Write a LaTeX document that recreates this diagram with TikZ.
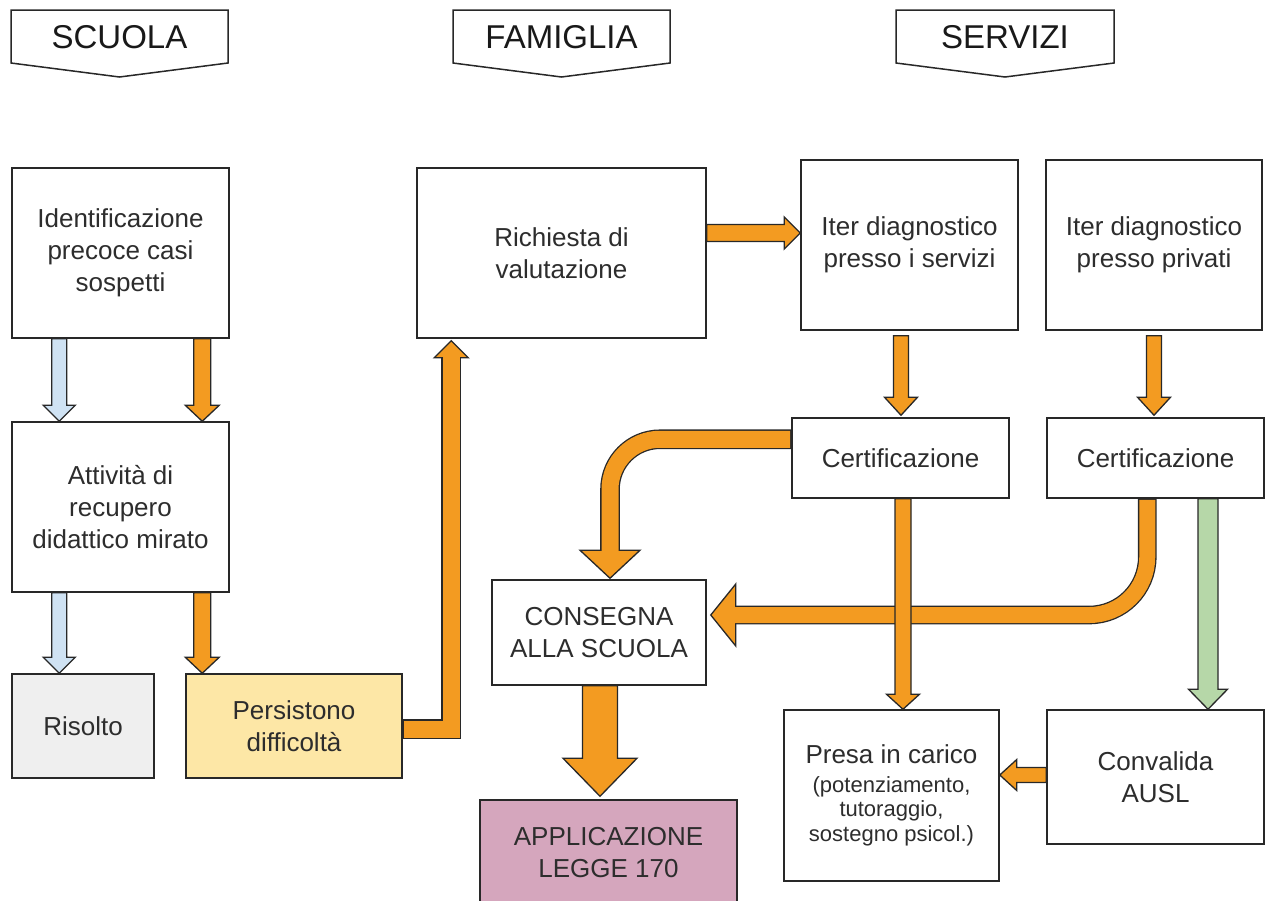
\documentclass[tikz,border=0pt]{standalone}
\usepackage{fontspec}
\setmainfont{Liberation Sans}
\usetikzlibrary{calc}
\definecolor{oran}{RGB}{243,155,33}
\definecolor{lblue}{RGB}{207,226,243}
\definecolor{lgreen}{RGB}{182,215,168}
\definecolor{lgray}{RGB}{239,239,239}
\definecolor{lyell}{RGB}{253,231,166}
\definecolor{lpink}{RGB}{213,166,189}
\definecolor{edge}{RGB}{40,40,40}
\definecolor{txt}{RGB}{45,45,45}
% straight block arrow: fill, start, end, shaft half width, head half width, head length
\newcommand{\barrow}[6]{%
  \path (#2) coordinate (bas) (#3) coordinate (bae);
  \path ($(bae)!#6!(bas)$) coordinate (bah);
  \filldraw[arrowline, fill=#1] ($(bas)!#4!90:(bae)$) -- ($(bah)!#4!-90:(bas)$) -- ($(bah)!#5!-90:(bas)$) -- (bae) -- ($(bah)!#5!90:(bas)$) -- ($(bah)!#4!90:(bas)$) -- ($(bas)!#4!-90:(bae)$) -- cycle;
}
% arrow head only: fill, base, tip, half width
\newcommand{\bhead}[4]{%
  \path (#2) coordinate (bhb) (#3) coordinate (bht);
  \filldraw[arrowline, fill=#1] ($(bhb)!#4!90:(bht)$) -- (bht) -- ($(bhb)!#4!-90:(bht)$) -- cycle;
}
\tikzset{
  box/.style={draw=edge, line width=1.5pt, fill=white, inner sep=0pt, align=center, text=txt, font=\fontsize{26}{32}\selectfont},
  hdr/.style={inner sep=0pt, text=black!90, font=\fontsize{33}{36}\selectfont},
  hdrline/.style={draw=edge, line width=1.5pt, line join=miter},
  arrowline/.style={draw=edge, line width=1.3pt, line join=miter},
  shaftout/.style={draw=edge, line width=#1, line join=miter},
  shaftin/.style={draw=oran, line width=#1, line join=miter},
}
\begin{document}
\begin{tikzpicture}[x=1pt, y=-1pt]
\fill[white] (0,0) rectangle (1265,900);
\useasboundingbox (0,0) rectangle (1265,900);

% headers
\draw[hdrline] (11,10) -- (228,10) -- (228,63) -- (119.5,77) -- (11,63) -- cycle;
\node[hdr] (hs) at (119.5,37) {SCUOLA};
\draw[hdrline] (453,10) -- (670,10) -- (670,63) -- (561.5,77) -- (453,63) -- cycle;
\node[hdr] (hf) at (561.5,37) {FAMIGLIA};
\draw[hdrline] (896,10) -- (1114,10) -- (1114,63) -- (1005,77) -- (896,63) -- cycle;
\node[hdr] (hv) at (1005,37) {SERVIZI};

% boxes
\node[box, minimum width=217pt, minimum height=170pt] (ident) at (120.5,253) {Identificazione\\precoce casi\\sospetti};
\node[box, minimum width=217pt, minimum height=170pt] (attiv) at (120.5,507) {Attività di\\recupero\\didattico mirato};
\node[box, fill=lgray, minimum width=142pt, minimum height=104pt] (risolto) at (83,726) {Risolto};
\node[box, fill=lyell, minimum width=216pt, minimum height=104pt] (persist) at (294,726) {Persistono\\difficoltà};
\node[box, minimum width=289pt, minimum height=170pt] (richiesta) at (561.5,253) {Richiesta di\\valutazione};
\node[box, minimum width=217pt, minimum height=170pt] (iter1) at (909.5,245) {Iter diagnostico\\presso i servizi};
\node[box, minimum width=216pt, minimum height=170pt] (iter2) at (1154,245) {Iter diagnostico\\presso privati};
\node[box, minimum width=217pt, minimum height=80pt] (cert1) at (900.5,458) {Certificazione};
\node[box, minimum width=217pt, minimum height=80pt] (cert2) at (1155.5,458) {Certificazione};
\node[box, minimum width=214pt, minimum height=105pt] (consegna) at (599,632.5) {CONSEGNA\\ALLA SCUOLA};
\node[box, fill=lpink, minimum width=257pt, minimum height=105pt] (applic) at (608.5,852.5) {APPLICAZIONE\\LEGGE 170};
\node[box, minimum width=215pt, minimum height=171pt, font=\fontsize{22}{24.5}\selectfont] (presa) at (891.5,795.5) {{\fontsize{26}{30}\selectfont Presa in carico}\\[4pt](potenziamento,\\tutoraggio,\\sostegno psicol.)};
\node[box, minimum width=217pt, minimum height=134pt] (convalida) at (1155.5,777) {Convalida\\AUSL};

% scuola column arrows
\barrow{lblue}{$(ident.south west)+(48,0)$}{$(attiv.north west)+(48,0)$}{7.5pt}{16pt}{16pt}
\barrow{oran}{$(ident.south west)+(191,0)$}{$(attiv.north west)+(191,0)$}{8.5pt}{17pt}{16pt}
\barrow{lblue}{$(attiv.south west)+(48,0)$}{$(risolto.north west)+(48,0)$}{7.5pt}{16pt}{16pt}
\barrow{oran}{$(attiv.south west)+(191,0)$}{$(persist.north west)+(17,0)$}{8.5pt}{17pt}{16pt}

% persistono -> richiesta
\draw[shaftout=19.6pt] ($(persist.east)+(0,3)$) -| ($(richiesta.south west)+(35,19)$);
\bhead{oran}{$(richiesta.south west)+(35,19)$}{$(richiesta.south west)+(35,2)$}{17pt}
\draw[shaftin=17pt] ($(persist.east)+(1.2,3)$) -| ($(richiesta.south west)+(35,17.5)$);

% richiesta -> iter1
\barrow{oran}{$(richiesta.east)+(0,-20)$}{$(iter1.west)+(0,-12)$}{8.5pt}{16pt}{16pt}

% iter -> certificazione
\barrow{oran}{$(iter1.south)+(-8.5,5)$}{$(cert1.north)+(0.5,-2)$}{7.5pt}{16.5pt}{18pt}
\barrow{oran}{$(iter2.south)+(0,5)$}{$(cert2.north)+(-1.5,-2)$}{7.5pt}{16.5pt}{18pt}

% cert1 -> consegna (curved)
\draw[shaftout=19.6pt, rounded corners=50pt] ($(cert1.north west)+(0,22)$) -| ($(consegna.north)+(11,-29)$);
\bhead{oran}{$(consegna.north)+(11,-29)$}{$(consegna.north)+(11,-1)$}{30pt}
\draw[shaftin=17pt, rounded corners=50pt] ($(cert1.north west)+(-1.2,22)$) -| ($(consegna.north)+(11,-27.5)$);

% cert2 -> consegna (curved)
\draw[shaftout=18.6pt, rounded corners=58pt] ($(cert2.south west)+(101,0)$) |- ($(consegna.east)+(29,-17.5)$);
\bhead{oran}{$(consegna.east)+(29,-17.5)$}{$(consegna.east)+(4,-17.5)$}{31pt}
\draw[shaftin=16pt, rounded corners=58pt] ($(cert2.south west)+(101,1.2)$) |- ($(consegna.east)+(27.5,-17.5)$);

% cert1 -> presa (on top of the crossing)
\barrow{oran}{$(cert1.south)+(2.5,0)$}{$(presa.north)+(11.5,0)$}{8pt}{16.5pt}{15pt}

% cert2 -> convalida
\barrow{lgreen}{$(cert2.south)+(52.5,0)$}{$(convalida.north)+(52.5,0)$}{10pt}{19.5pt}{20pt}

% convalida -> presa
\barrow{oran}{$(convalida.west)+(0,-2)$}{$(presa.east)+(0,-20.5)$}{7.5pt}{15.5pt}{17pt}

% consegna -> applicazione
\barrow{oran}{$(consegna.south)+(1,0)$}{$(applic.north)+(-8.5,-3)$}{17.5pt}{37pt}{38pt}
\end{tikzpicture}
\end{document}
